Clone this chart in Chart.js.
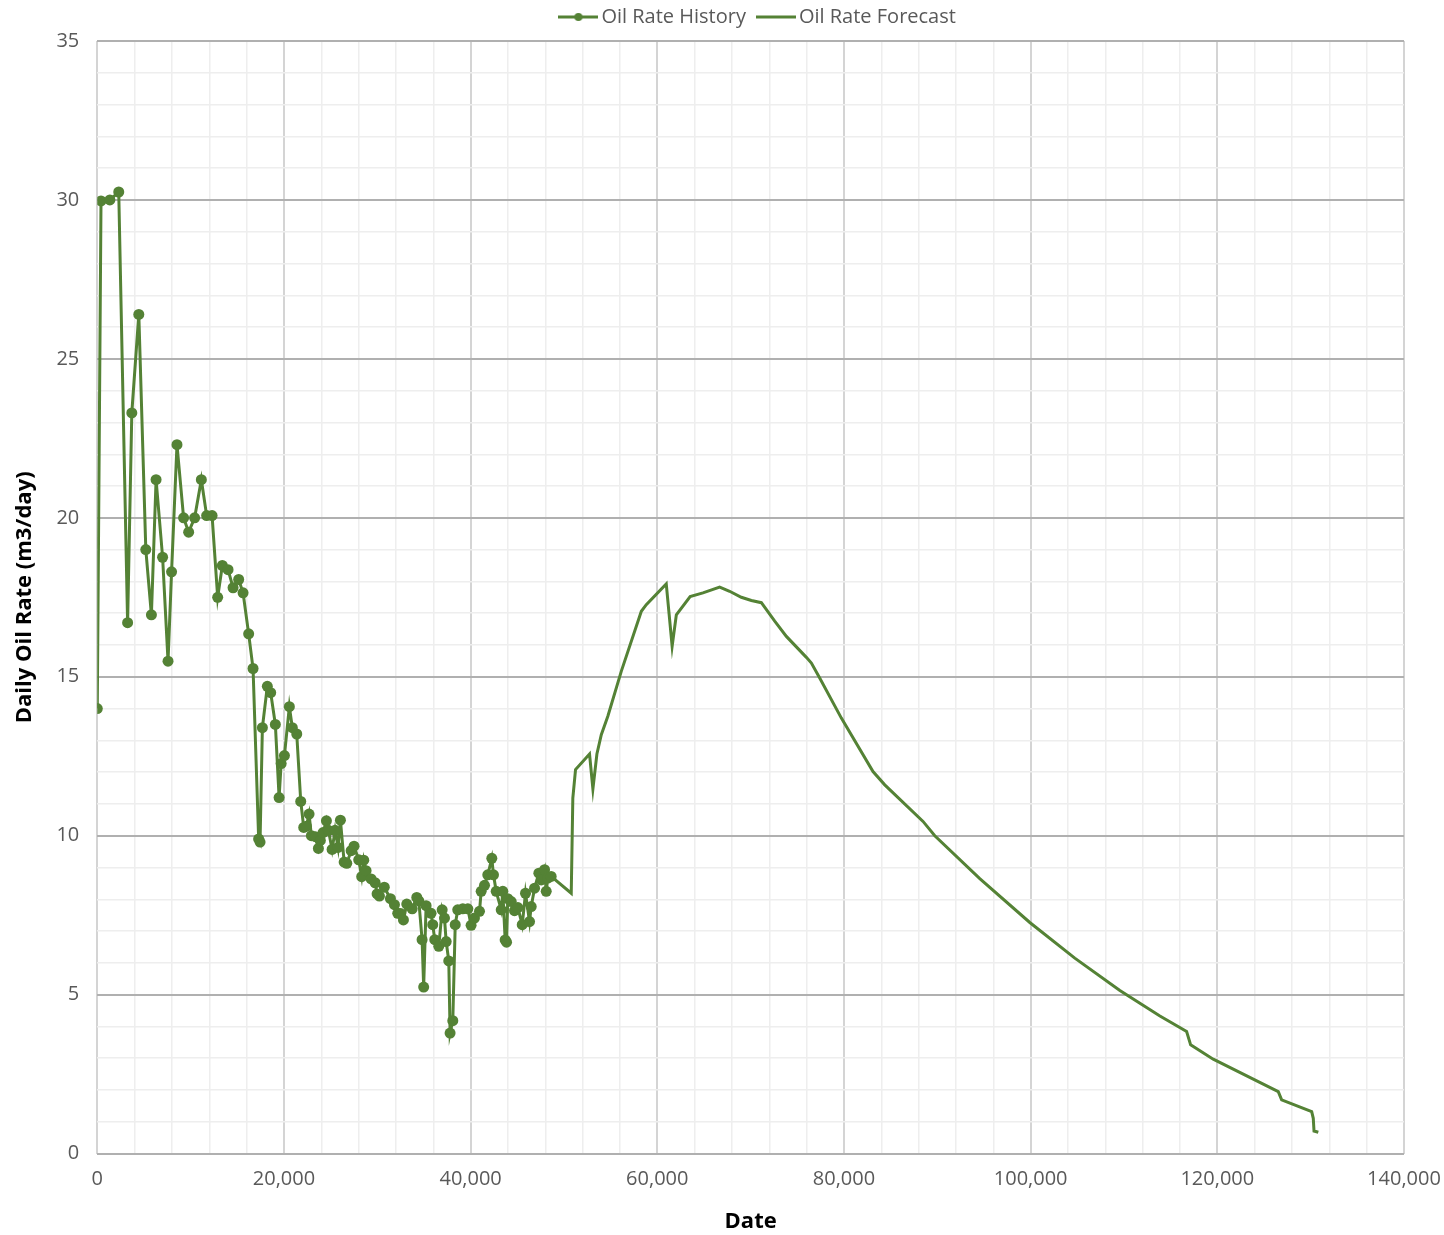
<!DOCTYPE html>
<html>
<head>
<meta charset="utf-8">
<title>Oil Rate</title>
<script src="https://cdn.jsdelivr.net/npm/chart.js@4/dist/chart.umd.min.js"></script>
<style>
    body { margin: 0; background: #fff; }
</style>
</head>
<body>
<canvas id="oil-chart" width="1444" height="1235"></canvas>
<script>
// historia (puntos)
const histX = [0, 400, 1350, 2300, 3250, 3700, 4450, 5200, 5800, 6300, 7000, 7580, 7960, 8540, 9250, 9790, 10430, 11150, 11720, 12300,
    12900, 13400, 14010, 14550, 15150, 15620, 16220, 16690, 17290, 17440, 17690, 18220, 18580, 19080, 19480, 19700, 20050, 20580, 20900, 21370,
    21800, 22120, 22400, 22690, 22940, 23370, 23690, 23900, 24190, 24550, 24760, 25160, 25480, 25800, 26050, 26450, 26730, 27200, 27510, 28010,
    28330, 28550, 28800, 29340, 29770, 29980, 30230, 30750, 31410, 31840, 32190, 32500, 32800, 33160, 33740, 34230, 34450, 34800, 34970, 35230,
    35760, 35940, 36160, 36590, 36950, 37200, 37380, 37660, 37800, 38090, 38350, 38620, 39160, 39700, 40050, 40410, 40950, 41130, 41490, 41840,
    42270, 42450, 42740, 43280, 43450, 43700, 43850, 43980, 44350, 44700, 45060, 45530, 45880, 46310, 46490, 46850, 47310, 47570, 47920, 48100,
    48270, 48630]
const histY = [14.0, 29.97, 30.0, 30.25, 16.7, 23.3, 26.4, 19.0, 16.95, 21.2, 18.76, 15.49, 18.3, 22.3, 20.0, 19.55, 20.0, 21.2, 20.07, 20.07,
    17.5, 18.5, 18.37, 17.8, 18.06, 17.64, 16.35, 15.26, 9.9, 9.8, 13.4, 14.7, 14.5, 13.5, 11.2, 12.27, 12.52, 14.06, 13.4, 13.2,
    11.08, 10.26, 10.3, 10.68, 10.0, 9.97, 9.6, 9.85, 10.1, 10.47, 10.17, 9.57, 10.17, 9.63, 10.49, 9.17, 9.13, 9.53, 9.67, 9.24,
    8.71, 9.23, 8.9, 8.64, 8.52, 8.17, 8.1, 8.38, 8.02, 7.83, 7.56, 7.55, 7.35, 7.85, 7.7, 8.06, 7.95, 6.73, 5.24, 7.8,
    7.56, 7.2, 6.73, 6.52, 7.67, 7.41, 6.67, 6.06, 3.79, 4.18, 7.2, 7.67, 7.7, 7.7, 7.18, 7.41, 7.62, 8.25, 8.44, 8.77,
    9.29, 8.77, 8.25, 7.67, 8.25, 6.72, 6.65, 8.02, 7.93, 7.64, 7.74, 7.2, 8.19, 7.3, 7.77, 8.35, 8.82, 8.61, 8.93, 8.25,
    8.67, 8.72]

// pronostico (linea)
const fcX = [48630, 50780, 50950, 51240, 52740, 53100, 53530, 54000, 54700, 56140, 58290, 58820, 60960, 61590, 62040, 63520, 64890, 66680, 67750, 69000,
    70080, 71150, 72580, 73830, 75970, 76510, 77400, 79720, 83110, 84370, 88470, 89730, 94550, 99910, 104730, 109560, 113850, 116710, 117140, 119560,
    126530, 126890, 130110, 130280, 130360, 130820]
const fcY = [8.72, 8.19, 11.18, 12.08, 12.57, 11.47, 12.57, 13.18, 13.76, 15.17, 17.06, 17.27, 17.92, 15.96, 16.95, 17.52, 17.64, 17.82, 17.69, 17.5,
    17.4, 17.33, 16.75, 16.27, 15.61, 15.43, 14.96, 13.7, 12.02, 11.6, 10.45, 10.0, 8.65, 7.27, 6.15, 5.13, 4.33, 3.84, 3.42, 2.97,
    1.95, 1.69, 1.32, 1.11, 0.71, 0.67]

const seriesNames = ['Oil Rate History', 'Oil Rate Forecast']

const verde = '#548235'
const grisTexto = '#595959'
const fuente = 'Open Sans'

const canvasOil = document.querySelector('#oil-chart')

const toPoints = (xs, ys) => xs.map((x, i) => ({ x: x, y: ys[i] }))

const iconoLeyenda = (conPunto) => {
    const c = document.createElement('canvas')
    c.width = 40
    c.height = 12
    const ctx = c.getContext('2d')
    ctx.strokeStyle = verde
    ctx.lineWidth = 3
    ctx.beginPath()
    ctx.moveTo(0, 6)
    ctx.lineTo(40, 6)
    ctx.stroke()
    if (conPunto) {
        ctx.fillStyle = verde
        ctx.beginPath()
        ctx.arc(20, 6, 4, 0, Math.PI * 2)
        ctx.fill()
    }
    return c
}
const iconos = [iconoLeyenda(true), iconoLeyenda(false)]

// centra la leyenda sobre el area del grafico, como en Excel
const leyendaCentrada = {
    id: 'leyendaCentrada',
    afterLayout: (chart) => {
        const leg = chart.legend
        leg.left = chart.chartArea.left + 10
        leg.right = chart.chartArea.right + 10
        leg.top -= 4
        leg.bottom -= 4
    }
}

const data = {
    datasets: [{
        label: seriesNames[0],
        data: toPoints(histX, histY),
        borderColor: verde,
        backgroundColor: verde,
        borderWidth: 3,
        pointRadius: 5.5,
        pointBorderWidth: 0,
        pointBackgroundColor: verde,
        tension: 0
    }, {
        label: seriesNames[1],
        data: toPoints(fcX, fcY),
        borderColor: verde,
        backgroundColor: verde,
        borderWidth: 3,
        pointRadius: 0,
        tension: 0
    }]
}

const config = {
    type: 'line',
    data: data,
    plugins: [leyendaCentrada],
    options: {
        responsive: false,
        animation: false,
        layout: { padding: { left: 12, right: 40, top: -6, bottom: 0 } },
        plugins: {
            tooltip: { enabled: false },
            legend: {
                position: 'top',
                labels: {
                    usePointStyle: true,
                    pointStyleWidth: 26,
                    color: grisTexto,
                    font: { family: fuente, size: 20 },
                    padding: 17,
                    generateLabels: (chart) => {
                        const items = Chart.defaults.plugins.legend.labels.generateLabels(chart)
                        items.forEach((item, i) => { item.pointStyle = iconos[i] })
                        return items
                    }
                }
            }
        },
        scales: {
            x: {
                type: 'linear',
                min: 0,
                max: 140000,
                border: { display: false },
                afterFit: (scale) => { scale.paddingRight = 30 },
                grid: {
                    drawTicks: false,
                    color: (ctx) => ctx.tick && ctx.tick.value % 20000 === 0 ? '#d4d4d4' : '#eeeeee',
                    lineWidth: (ctx) => ctx.tick && ctx.tick.value % 20000 === 0 ? 2 : 1.5
                },
                ticks: {
                    stepSize: 4000,
                    autoSkip: false,
                    maxRotation: 0,
                    padding: 14,
                    color: grisTexto,
                    font: { family: fuente, size: 20 },
                    callback: (v) => v % 20000 === 0 ? v.toLocaleString('en-US') : ''
                },
                title: {
                    display: true,
                    text: 'Date',
                    color: '#000',
                    font: { family: fuente, size: 22, weight: 'bold' },
                    padding: { top: 3, bottom: 0 }
                }
            },
            y: {
                min: 0,
                max: 35,
                border: { display: false },
                grid: {
                    drawTicks: false,
                    color: (ctx) => ctx.tick && ctx.tick.value % 5 === 0 ? '#b0b0b0' : '#eeeeee',
                    lineWidth: (ctx) => ctx.tick && ctx.tick.value % 5 === 0 ? 2 : 1.5
                },
                ticks: {
                    stepSize: 1,
                    autoSkip: false,
                    padding: 18,
                    color: grisTexto,
                    font: { family: fuente, size: 20 },
                    callback: (v) => v % 5 === 0 ? v : ''
                },
                title: {
                    display: true,
                    text: 'Daily Oil Rate (m3/day)',
                    color: '#000',
                    font: { family: fuente, size: 22, weight: 'bold' },
                    padding: { top: 0, bottom: 0 }
                }
            }
        }
    }
}

new Chart(canvasOil, config)
</script>
</body>
</html>
